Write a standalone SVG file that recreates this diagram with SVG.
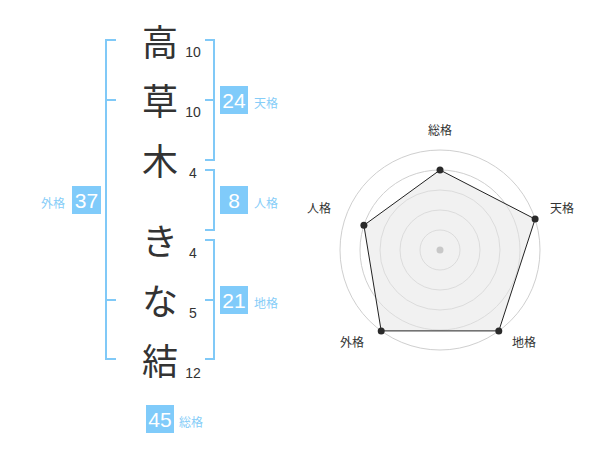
<svg xmlns="http://www.w3.org/2000/svg" width="600" height="470" viewBox="0 0 600 470">
<style>
.ch{font-family:"Noto Sans CJK JP","Noto Sans CJK SC",sans-serif;font-size:36px;fill:#333;text-anchor:middle}
.num{font-family:"Liberation Sans",Arial,sans-serif;font-size:14px;fill:#333;text-anchor:middle}
.br{fill:none;stroke:#80c9f7;stroke-width:2}
.box{fill:#80cbfa}
.bn{font-family:"Liberation Sans",Arial,sans-serif;font-size:21px;fill:#fff;text-anchor:middle}
.lb{font-family:"Noto Sans CJK JP","Noto Sans CJK SC",sans-serif;font-size:12px;fill:#86cdf8}
.rl{font-family:"Noto Sans CJK JP","Noto Sans CJK SC",sans-serif;font-size:12px;fill:#333;text-anchor:middle}
.ring{fill:none;stroke:#cfcfcf;stroke-width:1}
</style>
<rect width="600" height="470" fill="#fff"/>
<g id="connectors">
<path class="br" d="M116,40 H106 V359 H116 M106,100 H116 M106,300 H116"/>
<path class="br" d="M205,40 H214 V160 H205 M205,100 H214"/>
<path class="br" d="M205,170 H214 V230 H205"/>
<path class="br" d="M205,240 H214 V359 H205 M205,300 H214"/>
</g>
<g id="char-taka"><text class="ch" x="160" y="56">高</text><text class="num" x="193" y="57">10</text></g>
<g id="char-kusa"><text class="ch" x="160" y="115">草</text><text class="num" x="193" y="117">10</text></g>
<g id="char-ki"><text class="ch" x="160" y="175">木</text><text class="num" x="193" y="178">4</text></g>
<g id="char-kii"><text class="ch" x="160" y="255">き</text><text class="num" x="193" y="258">4</text></g>
<g id="char-na"><text class="ch" x="160" y="315">な</text><text class="num" x="193" y="318">5</text></g>
<g id="char-yui"><text class="ch" x="160" y="375">結</text><text class="num" x="193" y="378">12</text></g>
<g id="tenkaku"><rect class="box" x="220" y="86" width="28" height="28"/><text class="bn" x="234" y="108">24</text><text class="lb" x="254" y="108">天格</text></g>
<g id="jinkaku"><rect class="box" x="220" y="186" width="28" height="28"/><text class="bn" x="234" y="208">8</text><text class="lb" x="254" y="208">人格</text></g>
<g id="chikaku"><rect class="box" x="220" y="286" width="28" height="28"/><text class="bn" x="234" y="308">21</text><text class="lb" x="254" y="308">地格</text></g>
<g id="gaikaku"><rect class="box" x="72" y="186" width="29" height="28"/><text class="bn" x="86.5" y="208">37</text><text class="lb" x="41" y="208">外格</text></g>
<g id="soukaku"><rect class="box" x="146" y="405" width="28" height="28"/><text class="bn" x="160" y="427">45</text><text class="lb" x="179" y="427">総格</text></g>
<g id="radar">
<circle class="ring" cx="440" cy="250" r="100"/>
<circle class="ring" cx="440" cy="250" r="80"/>
<circle class="ring" cx="440" cy="250" r="60"/>
<circle class="ring" cx="440" cy="250" r="40"/>
<circle class="ring" cx="440" cy="250" r="20"/>
<polygon points="440,170 535.1,219.1 498.8,330.9 381.2,330.9 363.9,225.3" fill="#e6e6e6" fill-opacity="0.55" stroke="#222" stroke-width="1"/>
<circle cx="440" cy="250" r="3.5" fill="#c8c8c8"/>
<g fill="#2a2a2a">
<circle cx="440" cy="170" r="3.5"/>
<circle cx="535.1" cy="219.1" r="3.5"/>
<circle cx="498.8" cy="330.9" r="3.5"/>
<circle cx="381.2" cy="330.9" r="3.5"/>
<circle cx="363.9" cy="225.3" r="3.5"/>
</g>
<text class="rl" x="440" y="135">総格</text>
<text class="rl" x="562" y="213">天格</text>
<text class="rl" x="524" y="347">地格</text>
<text class="rl" x="352" y="347">外格</text>
<text class="rl" x="319" y="213">人格</text>
</g>
</svg>
